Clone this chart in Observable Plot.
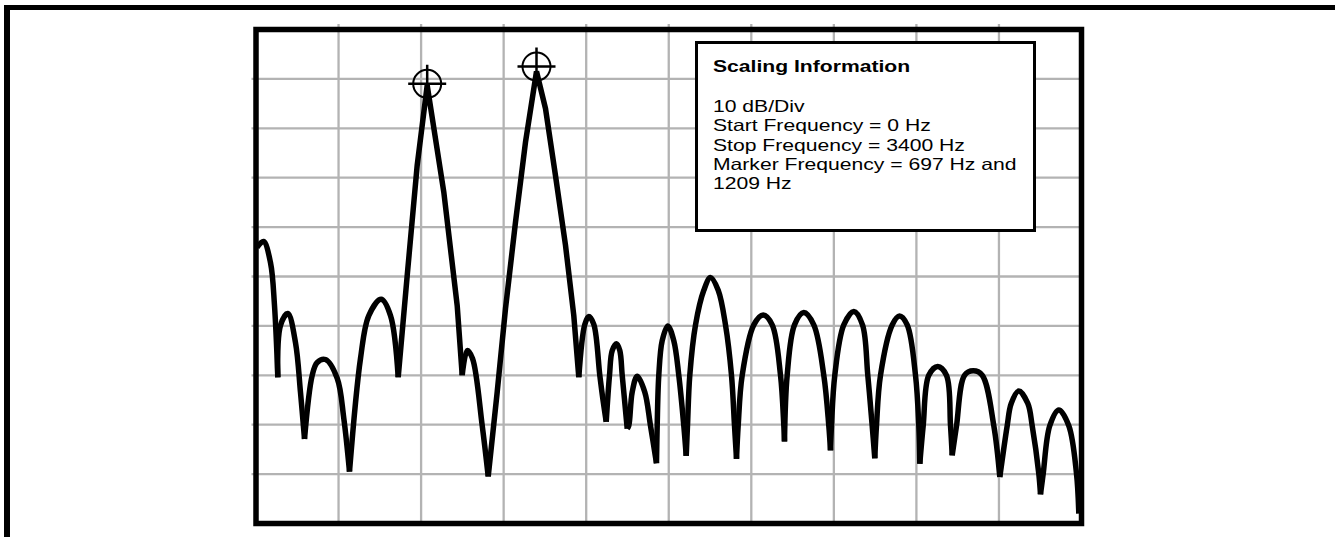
<!DOCTYPE html>
<html>
<head>
<meta charset="utf-8">
<script src="https://cdn.jsdelivr.net/npm/d3@7"></script>
<script src="https://cdn.jsdelivr.net/npm/@observablehq/plot@0.6"></script>
<style>
  html, body { margin: 0; padding: 0; background: #fff; }
  #wrap { position: relative; width: 1335px; height: 537px; overflow: hidden; font-family: "Liberation Sans", Arial, sans-serif; }
  #page-border { position: absolute; left: 4px; top: 5px; right: 0; bottom: -20px; border-top: 5.7px solid #000; border-left: 6px solid #000; pointer-events: none; }
  #legend { position: absolute; left: 694.5px; top: 40.5px; width: 341px; height: 191px; border: 3px solid #000; box-sizing: border-box; background: #fff; color: #000; }
  #legend .ln { position: absolute; left: 15px; font-size: 16.5px; line-height: 19.3px; white-space: nowrap; transform: scaleX(1.28); transform-origin: 0 0; }
  #legend .ttl { font-weight: bold; }
</style>
</head>
<body>
<div id="wrap"></div>
<script>
// Spectrum trace (frequency in Hz, level in dB; top of screen = 0 dB, 10 dB/div)
const freq = [
  4.1, 30.9, 59.7, 76.2, 89.8,
  100.9, 131.0, 162.7, 183.3, 199.8,
  231.5, 252.1, 286.2, 334.4, 361.6, 385.1,
  430.4, 464.6, 515.7, 554.0, 585.7,
  622.8, 663.9, 705.1, 773.5, 828.7, 849.3,
  869.9, 891.7, 931.7, 956.4,
  993.4, 1027.6, 1068.8, 1110.0, 1155.3, 1192.4, 1233.6, 1274.8, 1308.9, 1329.5,
  1354.2, 1370.7, 1391.3, 1416.0, 1428.4, 1442.4,
  1456.0, 1467.1, 1484.8, 1498.4, 1508.3, 1528.9,
  1535.4, 1549.4, 1570.0, 1601.3, 1624.8, 1649.5,
  1652.4, 1659.0, 1673.0, 1696.1, 1720.8, 1741.4, 1762.0, 1771.9,
  1777.2, 1786.7, 1810.2, 1844.4, 1872.0, 1903.7, 1933.7, 1958.4, 1970.8, 1979.1,
  1986.0, 2002.5, 2050.3, 2089.0, 2126.1, 2160.3, 2173.9, 2176.7,
  2187.8, 2217.9, 2256.2, 2297.4, 2338.6, 2359.2, 2366.2,
  2370.3, 2383.9, 2420.9, 2462.2, 2498.0, 2519.8, 2537.9, 2548.6,
  2555.6, 2572.1, 2620.3, 2650.4, 2682.1, 2716.3, 2729.9, 2734.0,
  2748.0, 2771.0, 2808.1, 2844.0, 2860.5, 2867.4,
  2885.3, 2918.2, 2953.9, 2991.1, 3038.8, 3063.5,
  3094.0, 3110.5, 3141.7, 3178.8, 3196.9, 3224.1, 3231.1,
  3242.3, 3269.4, 3306.5, 3347.7, 3379.4, 3388.9
];
const level = [
  -44.1, -42.9, -47.2, -55.9, -70.4,
  -59.9, -57.5, -63.4, -73.5, -82.9,
  -70.0, -67.4, -66.8, -70.6, -78.7, -89.5,
  -66.6, -57.9, -54.6, -57.9, -70.4,
  -49.8, -27.5, -11.3, -32.9, -55.9, -70.0,
  -65.0, -66.6, -80.2, -90.5,
  -73.4, -56.5, -39.0, -22.8, -8.5, -16.0, -29.6, -43.7, -57.9, -70.4,
  -59.7, -58.1, -59.7, -70.0, -74.7, -79.4,
  -70.0, -65.0, -63.6, -65.0, -70.0, -80.8,
  -80.2, -73.4, -70.2, -73.4, -80.2, -87.8,
  -80.2, -70.0, -63.0, -60.0, -63.0, -70.0, -80.2, -86.3,
  -80.2, -70.0, -59.8, -52.8, -50.2, -52.8, -59.8, -70.0, -80.2, -86.9,
  -80.2, -70.0, -59.8, -57.8, -59.8, -70.0, -80.2, -83.4,
  -70.0, -59.8, -57.3, -59.8, -70.0, -80.2, -85.2,
  -80.2, -70.0, -59.8, -57.1, -59.8, -70.0, -80.2, -86.8,
  -80.2, -70.0, -59.8, -58.0, -59.8, -70.0, -80.2, -87.9,
  -80.2, -70.0, -68.2, -70.0, -80.2, -86.2,
  -80.2, -70.0, -69.1, -70.0, -80.2, -90.6,
  -80.2, -75.7, -73.2, -75.7, -80.2, -89.9, -94.1,
  -89.9, -80.2, -77.0, -80.2, -89.9, -98.0
];

// Markers (positions as drawn)
const markerFreq = [705.1, 1155.3];
const markerLevel = [-11.0, -7.5];

// Graticule
const gridFreq = [340, 680, 1020, 1360, 1700, 2040, 2380, 2720, 3060];
const gridLevel = [-90, -80, -70, -60, -50, -40, -30, -20, -10];

// Scaling information box
const infoTitle = "Scaling Information";
const infoLines = [
  "10 dB/Div",
  "Start Frequency = 0 Hz",
  "Stop Frequency = 3400 Hz",
  "Marker Frequency = 697 Hz and",
  "1209 Hz"
];

// Split trace into lobes at its nulls (local minima)
const n = freq.length;
const rows = [];
let seg = 0;
for (let i = 0; i < n; i++) {
  rows.push({f: freq[i], db: level[i], seg});
  if (i > 0 && i < n - 1 && level[i] < level[i - 1] && level[i] < level[i + 1]) {
    seg++;
    rows.push({f: freq[i], db: level[i], seg});
  }
}
const segMax = d3.rollup(rows, v => d3.max(v, d => d.db), d => d.seg);
const mainRows = rows.filter(d => segMax.get(d.seg) > -30);
const sideRows = rows.filter(d => segMax.get(d.seg) <= -30);

const markers = markerFreq.map((f, i) => ({f, db: markerLevel[i]}));

const crossSymbol = {
  draw(context, size) {
    const r = Math.sqrt(size / Math.PI);
    context.moveTo(-r, 0); context.lineTo(r, 0);
    context.moveTo(0, -r); context.lineTo(0, r);
  }
};

const lineStyle = {x: "f", y: "db", z: "seg", stroke: "#000", strokeWidth: 5.5, strokeLinecap: "butt", strokeLinejoin: "miter", strokeMiterlimit: 4};

const chart = Plot.plot({
  width: 1335,
  height: 537,
  marginLeft: 255.5,
  marginRight: 254,
  marginTop: 29,
  marginBottom: 14,
  x: {domain: [0, 3400], axis: null},
  y: {domain: [-100, 0], axis: null},
  marks: [
    Plot.ruleX(gridFreq, {stroke: "#b3b3b3", strokeWidth: 2.3, insetTop: -5}),
    Plot.ruleY(gridLevel, {stroke: "#b3b3b3", strokeWidth: 2.3, insetLeft: -4}),
    Plot.line(sideRows, {...lineStyle, curve: "catmull-rom"}),
    Plot.line(mainRows, {...lineStyle, curve: "linear"}),
    Plot.dot(markers, {x: "f", y: "db", r: 14, stroke: "#000", strokeWidth: 2, fill: "none"}),
    Plot.dot(markers, {x: "f", y: "db", r: 19, symbol: crossSymbol, stroke: "#000", strokeWidth: 2.5, fill: "none"}),
    Plot.frame({stroke: "#000", strokeWidth: 5.5})
  ]
});

const wrap = document.getElementById("wrap");
chart.style.position = "absolute";
chart.style.left = "0px";
chart.style.top = "0px";
wrap.appendChild(chart);

const border = document.createElement("div");
border.id = "page-border";
wrap.appendChild(border);

const legend = document.createElement("div");
legend.id = "legend";
const t = document.createElement("div");
t.className = "ln ttl";
t.style.top = "13.4px";
t.textContent = infoTitle;
legend.appendChild(t);
infoLines.forEach((s, i) => {
  const d = document.createElement("div");
  d.className = "ln";
  d.style.top = (53.4 + i * 19.35) + "px";
  d.textContent = s;
  legend.appendChild(d);
});
wrap.appendChild(legend);
</script>
</body>
</html>
